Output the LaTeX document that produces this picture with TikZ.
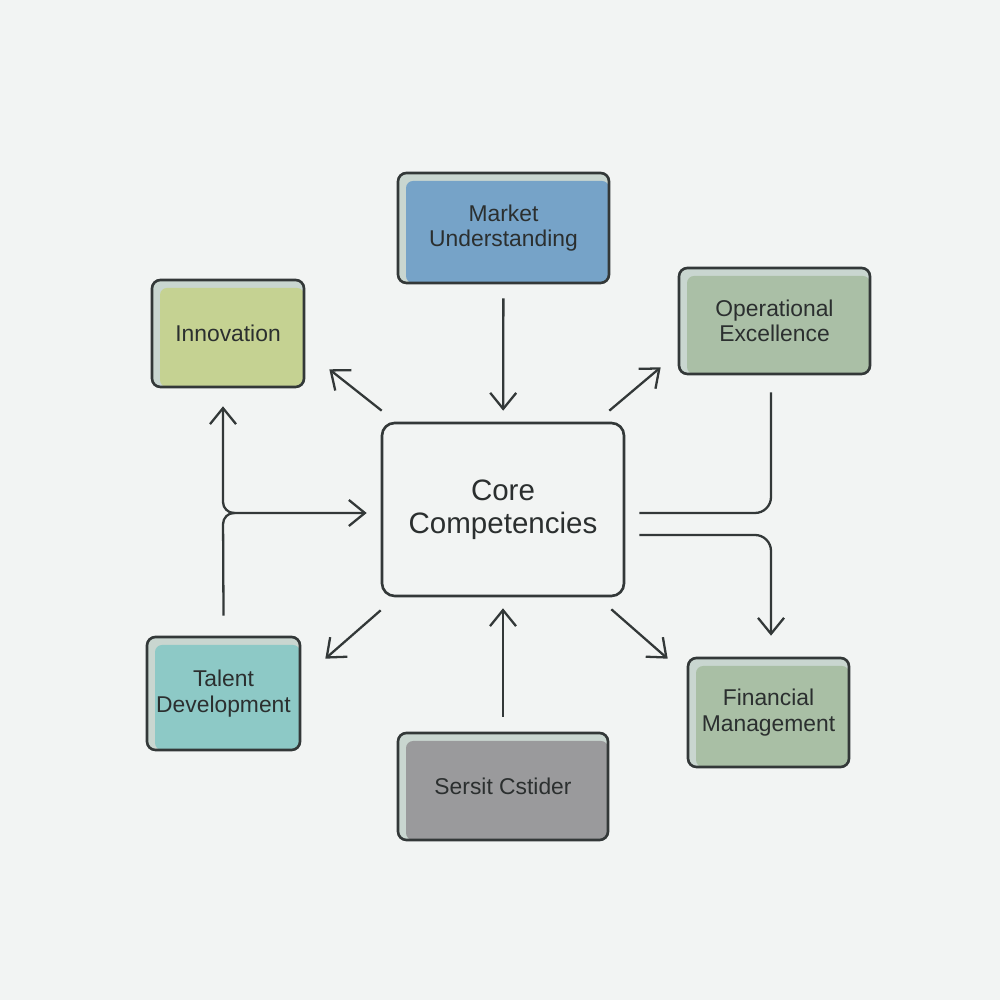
\documentclass[tikz,border=0pt]{standalone}
\usepackage{fontspec}
\setmainfont{Liberation Sans}
\usetikzlibrary{arrows.meta}
\definecolor{bgcol}{HTML}{F2F4F3}
\definecolor{linecol}{HTML}{333838}
\definecolor{stripcol}{HTML}{C9D6D0}
\definecolor{innocol}{HTML}{C5D292}
\definecolor{marketcol}{HTML}{76A3C8}
\definecolor{opercol}{HTML}{AABFA6}
\definecolor{talentcol}{HTML}{8DC9C6}
\definecolor{sersitcol}{HTML}{9A9A9C}
\definecolor{fincol}{HTML}{A9BFA5}
\definecolor{textcol}{HTML}{2B2F2F}
\begin{document}
\begin{tikzpicture}[>={Straight Barb[length=1.6mm,width=2.6mm]},
    compbox/.style={draw=linecol, line width=0.75pt, fill=stripcol, rounded corners=2.4pt,
      inner sep=0pt, align=center, text=textcol, font=\fontsize{6.5}{7.3}\selectfont,
      path picture={\fill[#1, rounded corners=2pt]
        ([xshift=0.8mm,yshift=-0.8mm]path picture bounding box.north west)
        rectangle (path picture bounding box.south east);}},
    corebox/.style={draw=linecol, line width=0.75pt, fill=bgcol, rounded corners=3.6pt,
      inner sep=0pt, align=center, text=textcol, font=\fontsize{8.4}{9.4}\selectfont},
    link/.style={draw=linecol, line width=0.65pt, ->}]
  \fill[bgcol] (0,0) rectangle (10,10);
  \useasboundingbox (0,0) rectangle (10,10);
  % boxes
  \node[corebox, minimum width=2.42cm, minimum height=1.73cm] (core) at (5.03,4.905) {Core\\Competencies};
  \node[compbox=innocol, minimum width=1.52cm, minimum height=1.07cm] (inno) at (2.28,6.665) {Innovation};
  \node[compbox=marketcol, minimum width=2.11cm, minimum height=1.10cm] (market) at (5.035,7.72) {Market\\Understanding};
  \node[compbox=opercol, minimum width=1.91cm, minimum height=1.06cm] (oper) at (7.745,6.79) {Operational\\Excellence};
  \node[compbox=talentcol, minimum width=1.53cm, minimum height=1.13cm] (talent) at (2.235,3.065) {Talent\\Development};
  \node[compbox=sersitcol, minimum width=2.10cm, minimum height=1.07cm] (sersit) at (5.03,2.135) {Sersit Cstider};
  \node[compbox=fincol, minimum width=1.61cm, minimum height=1.09cm] (fin) at (7.685,2.875) {Financial\\Management};
  % straight arrows
  \draw[link, shorten <=1.4mm, shorten >=1.1mm] (market) -- (core);
  \draw[link, shorten <=1.5mm, shorten >=1.1mm] (sersit) -- (core);
  \draw[link] ([shift={(0.01,0.11)}]core.north west) -- ([shift={(0.24,0.19)}]inno.south east);
  \draw[link] ([shift={(-0.16,0.11)}]core.north east) -- ([shift={(-0.17,0.08)}]oper.south west);
  \draw[link] ([shift={(0,-0.13)}]core.south west) -- ([shift={(0.24,-0.23)}]talent.north east);
  \draw[link] ([shift={(-0.14,-0.12)}]core.south east) -- ([shift={(-0.19,-0.02)}]fin.north west);
  % left branch
  \coordinate (split) at (2.23,4.87);
  \draw[link, rounded corners=1.1mm] ([yshift=2mm]talent.north) -- (split) -- ([xshift=-1.4mm]split -| core.west);
  \draw[link, rounded corners=1.1mm] ([xshift=1.2mm]split) -- (split) -- ([yshift=-1.8mm]split |- inno.south);
  % right side
  \draw[draw=linecol, line width=0.65pt, rounded corners=1.6mm] ([xshift=-0.35mm,yshift=-1.7mm]oper.south) |- ([xshift=1.4mm,yshift=-0.35mm]core.east);
  \draw[link, rounded corners=1.6mm] ([xshift=1.4mm,yshift=-2.55mm]core.east) -| ([xshift=0.25mm,yshift=2.1mm]fin.north);
\end{tikzpicture}
\end{document}
